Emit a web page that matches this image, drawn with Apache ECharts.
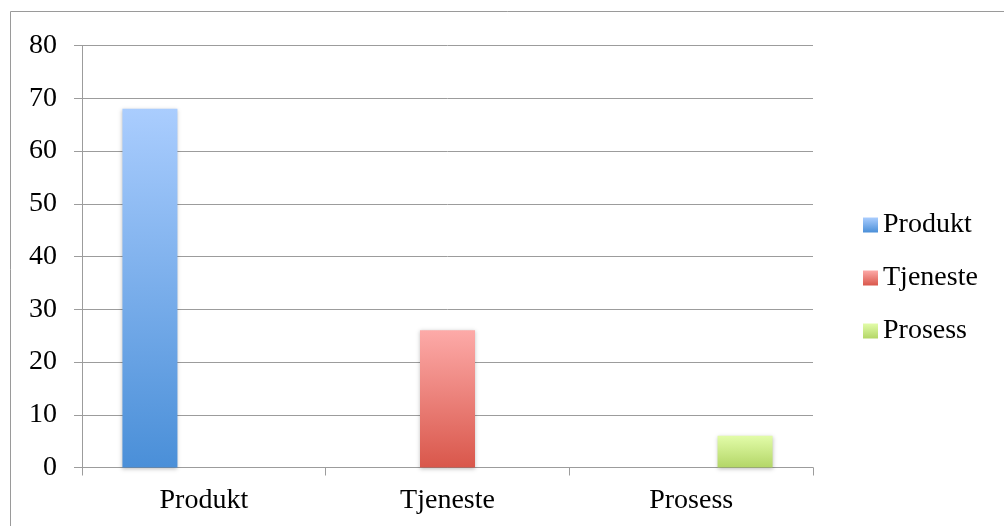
<!DOCTYPE html>
<html>
<head>
<meta charset="utf-8">
<script src="https://cdn.jsdelivr.net/npm/echarts@6/dist/echarts.min.js"></script>
<style>
  html, body { margin: 0; padding: 0; background: #fff; }
  #main { width: 1004px; height: 526px; }
</style>
</head>
<body>
<div id="main"></div>
<script>
// data
const categories = ['Produkt', 'Tjeneste', 'Prosess'];
const values = [68, 26, 6];
const yTicks = [0, 10, 20, 30, 40, 50, 60, 70, 80];

// gradient per serie: [topp, bunn]
const colors = [
  ['#aacdfe', '#4a8fd8'],
  ['#fdaaa8', '#d9574b'],
  ['#e2fca9', '#b3d667']
];

const FONT = 'Liberation Serif';
const GRAY = '#9c9c9c';

const chart = echarts.init(document.getElementById('main'));

// én serie per kategori, kun verdi i egen kategori
const series = categories.map((name, i) => ({
  name: name,
  type: 'bar',
  barWidth: 55,
  barGap: '-2%',
  data: categories.map((c, j) => (j === i ? values[i] : null)),
  itemStyle: {
    color: new echarts.graphic.LinearGradient(0, 0, 0, 1, [
      { offset: 0, color: colors[i][0] },
      { offset: 1, color: colors[i][1] }
    ]),
    shadowBlur: 4,
    shadowColor: 'rgba(0,0,0,0.25)',
    shadowOffsetY: 1
  }
}));

chart.setOption({
  animation: false,
  graphic: [{
    type: 'rect',
    shape: { x: 10.5, y: 11.5, width: 1010, height: 530 },
    style: { fill: 'none', stroke: '#9a9a9a', lineWidth: 1 },
    silent: true
  }],
  grid: { left: 82, right: 191, top: 45.5, bottom: 58.5 },
  legend: {
    orient: 'vertical',
    left: 858,
    top: 206,
    itemWidth: 15,
    itemHeight: 15,
    itemGap: 25,
    icon: 'rect',
    textStyle: { fontFamily: FONT, fontSize: 28, color: '#000', lineHeight: 28 },
    data: categories
  },
  xAxis: {
    type: 'category',
    data: categories,
    axisLine: { lineStyle: { color: GRAY, width: 1 } },
    axisTick: { show: true, length: 8, lineStyle: { color: GRAY } },
    axisLabel: { fontFamily: FONT, fontSize: 28, color: '#000', margin: 19 }
  },
  yAxis: {
    type: 'value',
    min: yTicks[0],
    max: yTicks[yTicks.length - 1],
    interval: 10,
    axisLine: { show: true, lineStyle: { color: GRAY, width: 1 } },
    axisTick: { show: true, length: 8, lineStyle: { color: GRAY } },
    splitLine: { lineStyle: { color: GRAY, width: 1 } },
    axisLabel: { fontFamily: FONT, fontSize: 28, color: '#000', margin: 25 }
  },
  series: series
});
</script>
</body>
</html>
